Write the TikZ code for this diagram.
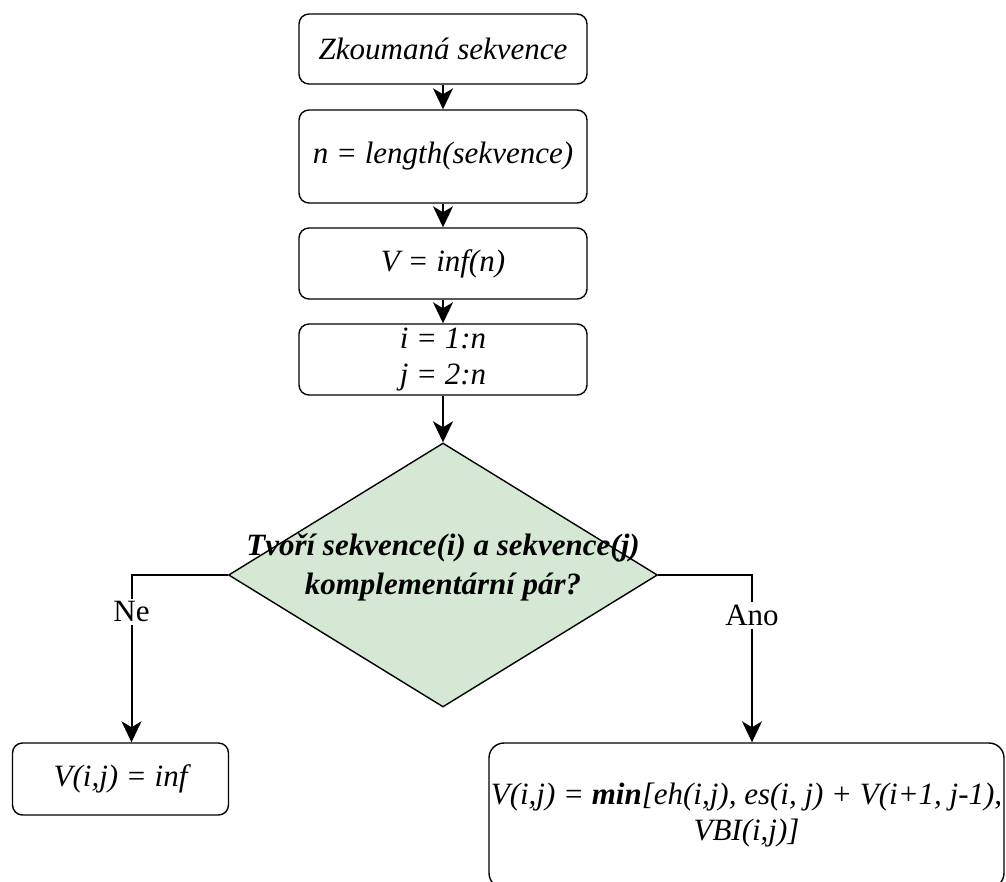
\documentclass[tikz,border=0pt]{standalone}
\usepackage{fontspec}
\setmainfont{Liberation Serif}
\usetikzlibrary{shapes.geometric,arrows.meta}
\begin{document}
\begin{tikzpicture}[x=1pt,y=-1pt,
  box/.style={draw, line width=1.4pt, rounded corners=10pt, inner sep=0pt, align=center,
    font=\fontsize{31}{36}\selectfont\itshape},
  conn/.style={line width=2pt, -{Stealth[length=21pt,width=20pt,inset=6pt]}},
  lbl/.style={fill=white, inner sep=3pt, font=\fontsize{31}{36}\selectfont}]
\useasboundingbox (0,0) rectangle (1006,881);
\node[box, minimum width=288, minimum height=70] (b1) at (443,49) {Zkoumaná sekvence};
\node[box, minimum width=288, minimum height=93] (b2) at (443,156.5) {n = length(sekvence)};
\node[box, minimum width=288, minimum height=71] (b3) at (443,263.5) {V = inf(n)};
\node[box, minimum width=288, minimum height=71] (b4) at (443,359.5) {i = 1:n\\j = 2:n};
\node[diamond, draw, line width=1.4pt, fill={rgb,255:red,213;green,232;blue,212},
  minimum width=429, minimum height=264, inner sep=0pt] (d) at (443,575) {};
\node[align=center, inner sep=0pt, font=\fontsize{31}{39}\selectfont\bfseries\itshape] (dt) at (443,567)
  {Tvoří sekvence(i) a sekvence(j)\\komplementární pár?};
\node[box, minimum width=216, minimum height=72] (bl) at (120.5,779) {V(i,j) = inf};
\node[box, rounded corners=15pt, minimum width=515, minimum height=145] (br) at (746.5,815.5)
  {V(i,j) = \textbf{min}[eh(i,j), es(i, j) + V(i+1, j-1),\\VBI(i,j)]};
\draw[conn] (b1) -- (b2);
\draw[conn] (b2) -- (b3);
\draw[conn] (b3) -- (b4);
\draw[conn] (b4) -- (d.north);
\draw[conn] (d.west) -| node[lbl, pos=0.61] (ne) {Ne} ([xshift=11pt]bl.north);
\draw[conn] (d.east) -| node[lbl, pos=0.62] (ano) {Ano} ([xshift=5.5pt]br.north);
\end{tikzpicture}
\end{document}
